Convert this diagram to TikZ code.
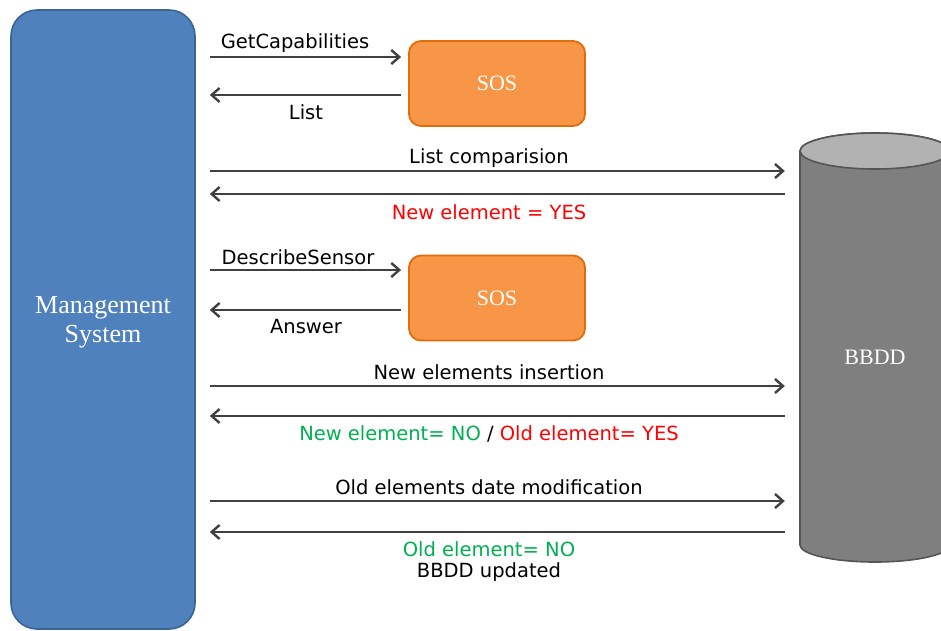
\documentclass[tikz,border=0pt]{standalone}
\usepackage{fontspec}
\setmainfont{DejaVu Sans}
\newfontfamily\boxfont{Liberation Serif}
\usetikzlibrary{arrows.meta}
\definecolor{msblue}{HTML}{4F81BD}
\definecolor{msborder}{HTML}{3B6494}
\definecolor{sosfill}{HTML}{F79646}
\definecolor{sosborder}{HTML}{E36C0A}
\definecolor{dbside}{HTML}{7F7F7F}
\definecolor{dbtop}{HTML}{B2B2B2}
\definecolor{dbborder}{HTML}{555555}
\definecolor{arrowgray}{HTML}{404040}
\definecolor{okgreen}{HTML}{00B050}
\definecolor{kored}{HTML}{FF0000}
\tikzset{
  msgarrow/.style={draw=arrowgray, line width=2.8pt, -{Straight Barb[length=8pt,width=14pt,line width=2.4pt]}},
  msglabel/.style={font=\fontsize{19.5}{22}\selectfont, text=black, inner sep=0pt},
  sosbox/.style={rectangle, rounded corners=12pt, fill=sosfill, draw=sosborder, line width=1.8pt,
    minimum width=176pt, minimum height=85pt, text=white, font=\boxfont\fontsize{22}{24}\selectfont},
}
\begin{document}
\begin{tikzpicture}[x=1pt, y=-1pt]
\useasboundingbox (0,0) rectangle (941,630);
\begin{scope}
\clip (0,0) rectangle (941,630);

% management system
\node[rectangle, rounded corners=26pt, fill=msblue, draw=msborder, line width=1.6pt,
  minimum width=184pt, minimum height=619pt] (ms) at (103,319.5) {};
\node[text=white, align=center, inner sep=0pt,
  font=\boxfont\fontsize{26}{29}\selectfont] (mstext) at (103,322) {Management\\System};

% service boxes
\node[sosbox] (sos1) at (497,83.5) {SOS};
\node[sosbox] (sos2) at (497,298) {SOS};

% database cylinder
\fill[dbside, draw=dbborder, line width=1.6pt]
  (800,151) -- (800,545) arc[start angle=180, end angle=0, x radius=75, y radius=17]
  -- (950,151) arc[start angle=0, end angle=-180, x radius=75, y radius=18] -- cycle;
\fill[dbtop, draw=dbborder, line width=1.6pt] (875,151) ellipse[x radius=75, y radius=18];
\node[minimum width=150pt, minimum height=430pt, text=white,
  font=\boxfont\fontsize{22}{24}\selectfont] (db) at (875,357) {BBDD};
\end{scope}

% GetCapabilities exchange
\draw[msgarrow, shorten <=14pt, shorten >=7pt] (ms.east |- 0,57) -- (sos1.west |- 0,57);
\node[msglabel] (l1) at (295,43) {GetCapabilities};
\draw[msgarrow, shorten <=7pt, shorten >=14pt] (sos1.west |- 0,95) -- (ms.east |- 0,95);
\node[msglabel] (l2) at (306,112) {List};

% list comparison
\draw[msgarrow, shorten <=14pt, shorten >=15pt] (ms.east |- 0,171) -- (db.west |- 0,171);
\node[msglabel] (l3) at (489,158) {List comparision};
\draw[msgarrow, shorten <=15pt, shorten >=14pt] (db.west |- 0,194) -- (ms.east |- 0,194);
\node[msglabel, text=kored] (l4) at (489,212) {New element = YES};

% DescribeSensor exchange
\draw[msgarrow, shorten <=14pt, shorten >=7pt] (ms.east |- 0,270) -- (sos2.west |- 0,270);
\node[msglabel] (l5) at (298,257) {DescribeSensor};
\draw[msgarrow, shorten <=7pt, shorten >=14pt] (sos2.west |- 0,310) -- (ms.east |- 0,310);
\node[msglabel] (l6) at (306,327) {Answer};

% insertion
\draw[msgarrow, shorten <=14pt, shorten >=15pt] (ms.east |- 0,386) -- (db.west |- 0,386);
\node[msglabel] (l7) at (489,372) {New elements insertion};
\draw[msgarrow, shorten <=15pt, shorten >=14pt] (db.west |- 0,416) -- (ms.east |- 0,416);
\node[msglabel] (l8) at (489,434) {\textcolor{okgreen}{New element= NO} / \textcolor{kored}{Old element= YES}};

% date modification
\draw[msgarrow, shorten <=14pt, shorten >=15pt] (ms.east |- 0,501) -- (db.west |- 0,501);
\node[msglabel] (l9) at (489,487) {Old elements date modification};
\draw[msgarrow, shorten <=15pt, shorten >=14pt] (db.west |- 0,532) -- (ms.east |- 0,532);
\node[msglabel, text=okgreen] (l10) at (489,549) {Old element= NO};
\node[msglabel] (l11) at (489,572) {BBDD updated};
\end{tikzpicture}
\end{document}
